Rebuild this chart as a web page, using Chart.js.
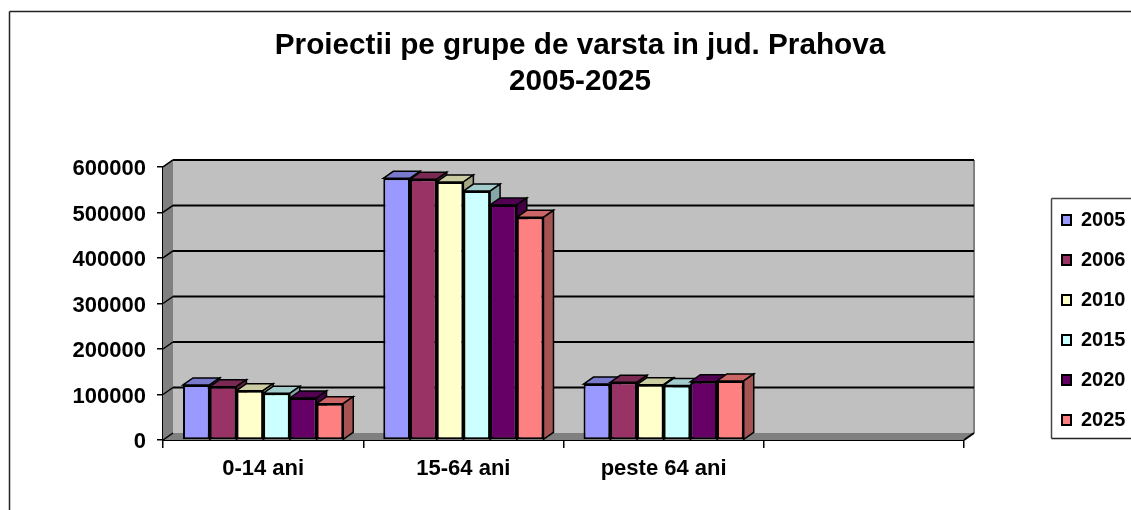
<!DOCTYPE html>
<html>
<head>
<meta charset="utf-8">
<title>Proiectii pe grupe de varsta</title>
<script src="https://cdn.jsdelivr.net/npm/chart.js@4/dist/chart.umd.min.js"></script>
<style>
  html, body { margin: 0; padding: 0; background: #fff; overflow: hidden; }
  canvas { display: block; }
</style>
</head>
<body>
<canvas id="chart" width="1131" height="510"></canvas>
<script>
// ── Data ──────────────────────────────────────────────────────────────────────

const TITLE_LINES = ["Proiectii pe grupe de varsta in jud. Prahova", "2005-2025"];
const CATEGORIES = ["0-14 ani", "15-64 ani", "peste 64 ani", ""];

const V2005 = [120900, 575000, 123000, null];
const V2006 = [117200, 572900, 126700, null];
const V2010 = [108400, 567000, 121600, null];
const V2015 = [102500, 547000, 120000, null];
const V2020 = [92300, 516500, 128000, null];
const V2025 = [79900, 489400, 129700, null];

const Y_MAX = 600000;
const Y_STEP = 100000;

// ── Style ─────────────────────────────────────────────────────────────────────

const FONT = "'Liberation Sans', Arial, sans-serif";
const DEPTH_X = 10;
const DEPTH_Y = 7;
const WALL = "#c0c0c0";
const WALL_DARK = "#808080";

function series(label, data, color) {
  return { label, data, backgroundColor: color, borderColor: "#000", borderWidth: 2, borderSkipped: false };
}

// darken a #rrggbb colour for the bar's top and side faces
function shade(hex, k) {
  const n = parseInt(hex.slice(1), 16);
  const c = [n >> 16, (n >> 8) & 255, n & 255].map(v => Math.round(v * k));
  return `rgb(${c[0]},${c[1]},${c[2]})`;
}

function poly(ctx, pts, fill, stroke, width) {
  ctx.beginPath();
  pts.forEach((p, i) => i ? ctx.lineTo(p[0], p[1]) : ctx.moveTo(p[0], p[1]));
  ctx.closePath();
  if (fill) { ctx.fillStyle = fill; ctx.fill(); }
  if (stroke) { ctx.strokeStyle = stroke; ctx.lineWidth = width; ctx.stroke(); }
}

function line(ctx, x1, y1, x2, y2, color, width) {
  ctx.beginPath();
  ctx.moveTo(x1, y1);
  ctx.lineTo(x2, y2);
  ctx.strokeStyle = color;
  ctx.lineWidth = width;
  ctx.stroke();
}

// ── Plugins: outer frame, 3D walls, bar depth, legend box ─────────────────────

const scene3d = {
  id: "scene3d",
  afterLayout(chart) {
    // the title centres on the whole frame, the legend sits apart from the plot
    chart.titleBlock.left = 29;
    chart.titleBlock.right = 1131;
    // legend wraps when a row passes its bottom, so keep that well below the rows
    const lg = chart.legend;
    lg.left = 1042; lg.right = 1146;
    lg.top = 170; lg.bottom = 470;
  },
  beforeDraw(chart) {
    const ctx = chart.ctx;
    line(ctx, 9.5, 11.5, 1131, 11.5, "#222", 1.5);
    line(ctx, 9.5, 11.5, 9.5, 510, "#222", 1.5);
    line(ctx, 1051.5, 198.5, 1131, 198.5, "#444", 1.5);
    line(ctx, 1051.5, 198.5, 1051.5, 438.5, "#444", 1.5);
    line(ctx, 1051.5, 438.5, 1131, 438.5, "#222", 1.5);
  },
  beforeDatasetsDraw(chart) {
    const ctx = chart.ctx;
    const { left, right, top, bottom } = chart.chartArea;
    const dx = DEPTH_X, dy = DEPTH_Y;

    // back wall, side wall, floor
    ctx.save();
    poly(ctx, [[left + dx, top - dy], [right + dx, top - dy], [right + dx, bottom - dy], [left + dx, bottom - dy]], WALL);
    poly(ctx, [[left, top], [left + dx, top - dy], [left + dx, bottom - dy], [left, bottom]], WALL_DARK);
    poly(ctx, [[left, bottom], [left + dx, bottom - dy], [right + dx, bottom - dy], [right, bottom]], WALL_DARK);
    line(ctx, right + dx, top - dy, right + dx, bottom - dy, WALL_DARK, 2);
    line(ctx, right, bottom, right + dx, bottom - dy, "#000", 2);

    // gridlines run along the side wall and the back wall
    chart.scales.y.ticks.forEach(t => {
      const y = chart.scales.y.getPixelForValue(t.value);
      line(ctx, left, y, left + dx, y - dy, "#000", 1.5);
      if (t.value > 0) line(ctx, left + dx, y - dy, right + dx, y - dy, "#000", 2);
    });

    // top and side of every bar, left to right so each covers its neighbour
    CATEGORIES.forEach((_, c) => {
      chart.data.datasets.forEach((ds, i) => {
        const bar = chart.getDatasetMeta(i).data[c];
        if (ds.data[c] == null) return;
        const color = ds.backgroundColor;
        const l = bar.x - bar.width / 2, r = bar.x + bar.width / 2;
        poly(ctx, [[l, bar.y], [l + dx, bar.y - dy], [r + dx, bar.y - dy], [r, bar.y]], shade(color, 0.8), "#000", 1.5);
        poly(ctx, [[r, bar.y], [r + dx, bar.y - dy], [r + dx, bar.base - dy], [r, bar.base]], shade(color, 0.65), "#000", 1.5);
      });
    });
    ctx.restore();
  },
};

// ── Chart ─────────────────────────────────────────────────────────────────────

new Chart(document.getElementById("chart"), {
  type: "bar",
  data: {
    labels: CATEGORIES,
    datasets: [
      series("2005", V2005, "#9999ff"),
      series("2006", V2006, "#993366"),
      series("2010", V2010, "#ffffcc"),
      series("2015", V2015, "#ccffff"),
      series("2020", V2020, "#660066"),
      series("2025", V2025, "#ff8080"),
    ],
  },
  plugins: [scene3d],
  options: {
    responsive: false,
    animation: false,
    layout: { padding: { left: 29, right: 73.5, top: 0, bottom: 0 } },
    datasets: { bar: { categoryPercentage: 0.8, barPercentage: 1 } },
    plugins: {
      tooltip: { enabled: false },
      title: {
        display: true,
        text: TITLE_LINES,
        color: "#000",
        font: { family: FONT, size: 29.7, weight: "bold", lineHeight: 1.2 },
        padding: { top: 28, bottom: 67.7 },
      },
      legend: {
        position: "right",
        labels: {
          color: "#000",
          font: { family: FONT, size: 20, weight: "bold" },
          boxWidth: 9,
          boxHeight: 10,
          padding: 20,
        },
      },
    },
    scales: {
      x: {
        afterFit: s => { s.height = 70; },
        border: { color: "#000", width: 2 },
        grid: { offset: true, drawOnChartArea: false, color: "#000", lineWidth: 1.5, tickLength: 8 },
        ticks: { color: "#000", font: { family: FONT, size: 22, weight: "bold" }, padding: 8, maxRotation: 0 },
      },
      y: {
        min: 0,
        max: Y_MAX,
        afterFit: s => { s.width = 134; },
        border: { color: "#000", width: 2 },
        grid: { drawOnChartArea: false, color: "#000", lineWidth: 1.5, tickLength: 6 },
        ticks: {
          stepSize: Y_STEP,
          color: "#000",
          font: { family: FONT, size: 22, weight: "bold" },
          padding: 11,
          labelOffset: 2,
          callback: v => String(v),
        },
      },
    },
  },
});
</script>
</body>
</html>
